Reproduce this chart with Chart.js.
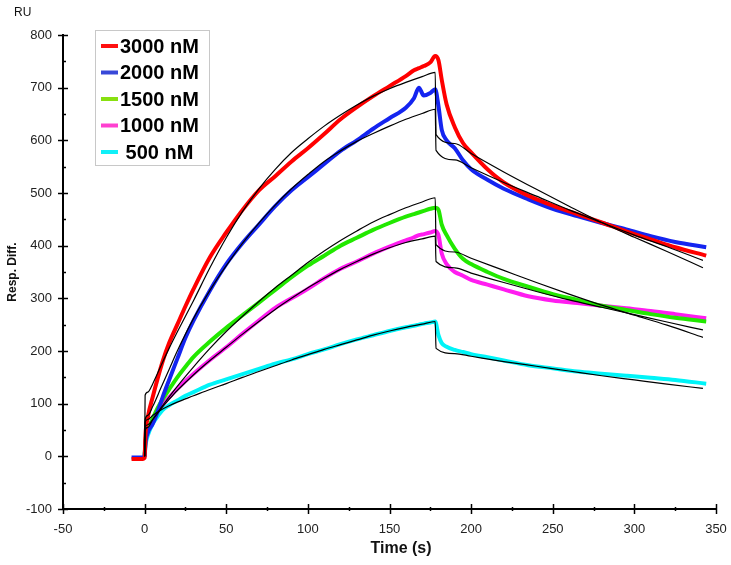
<!DOCTYPE html>
<html>
<head>
<meta charset="utf-8">
<script src="https://cdn.jsdelivr.net/npm/chart.js@4.4.0/dist/chart.umd.min.js"></script>
<style>
  html, body { margin: 0; padding: 0; background: #fff; }
</style>
</head>
<body>
<canvas id="sensorgram" width="731" height="565"></canvas>
<script>
// concentrations shown in the legend
const concLabels = ["3000 nM", "2000 nM", "1500 nM", "1000 nM", " 500 nM"];
const curveColors = ["#ff0000", "#1424f0", "#22e800", "#ff1cf0", "#00f4f8"];
const legendColors = ["#ff1010", "#3848d8", "#88e010", "#ff40d0", "#10f0f8"];

// measured response (RU) vs time (s)
const dataTime = [-8, -1, 0, 0.5, 2, 5, 8, 11, 15, 20, 25, 30, 40, 50, 60, 70, 80, 90, 100, 110,
  120, 130, 140, 150, 160, 165, 168, 171, 175, 178, 180, 182, 185, 190, 195, 200, 210, 220, 235, 250,
  265, 280, 295, 310, 325, 344];
const resp3000 = [-5, -5, -3, 40, 75, 113, 148, 180, 215, 250, 285, 318, 378, 425, 468, 505, 532, 560, 585, 612,
  640, 663, 684, 703, 722, 733, 737, 741, 748, 760, 752, 715, 668, 625, 595, 577, 545, 520, 495, 476,
  460, 444, 427, 412, 397, 381];
const resp2000 = [-2, -2, 0, 25, 45, 62, 85, 112, 145, 185, 225, 258, 315, 365, 405, 440, 475, 505, 530, 555,
  580, 600, 622, 642, 662, 680, 700, 685, 690, 697, 665, 620, 600, 585, 562, 545, 525, 508, 488, 470,
  456, 443, 431, 418, 407, 397];
const resp1500 = [null, null, 0, 30, 48, 72, 92, 108, 127, 150, 170, 189, 218, 244, 268, 292, 316, 340, 362, 381,
  400, 415, 430, 443, 455, 460, 463, 466, 470, 472, 468, 440, 420, 394, 375, 365, 350, 337, 322, 308,
  297, 286, 278, 270, 263, 256];
const resp1000 = [null, null, 0, 25, 50, 70, 86, 98, 112, 128, 143, 157, 183, 207, 233, 258, 282, 300, 318, 338,
  356, 370, 385, 398, 410, 416, 420, 422, 425, 428, 420, 385, 365, 350, 343, 335, 326, 317, 304, 296,
  291, 286, 281, 276, 270, 262];
const resp500 = [null, null, 0, 20, 40, 62, 76, 88, 97, 106, 115, 122, 136, 146, 156, 166, 176, 184, 194, 203,
  213, 222, 230, 238, 245, 248, 250, 252, 254, 256, 230, 215, 208, 202, 198, 194, 188, 182, 173, 167,
  161, 157, 153, 149, 145, 138];

// fitted curves (black)
const fitTime = [0, 0.3, 2, 5, 10, 15, 20, 30, 40, 50, 60, 70, 80, 90, 100, 110, 120, 130, 140, 150,
  160, 170, 178, 178.5, 190, 200, 220, 240, 260, 280, 300, 320, 342];
const fit3000 = [0, 116, 122, 138, 172, 205, 236, 296, 358, 415, 465, 508, 545, 577, 603, 627, 648, 667, 684, 698,
  710, 721, 729, 611, 594, 575, 540, 507, 475, 444, 416, 389, 358];
const fit2000 = [0, 70, 78, 95, 130, 165, 200, 262, 315, 362, 405, 443, 477, 508, 535, 560, 580, 598, 613, 627,
  640, 651, 659, 581, 563, 548, 520, 494, 468, 444, 420, 398, 372];
const fit1500 = [0, 50, 55, 70, 92, 113, 133, 170, 205, 237, 266, 294, 320, 344, 368, 390, 410, 428, 445, 459,
  472, 483, 491, 402, 388, 376, 353, 330, 308, 287, 268, 249, 226];
const fit1000 = [0, 56, 60, 70, 90, 108, 125, 155, 182, 207, 232, 256, 279, 300, 320, 338, 355, 370, 384, 396,
  406, 413, 418, 370, 358, 348, 330, 313, 297, 283, 269, 255, 240];
const fit500 = [0, 65, 70, 78, 88, 96, 103, 115, 127, 138, 150, 161, 172, 183, 193, 203, 212, 221, 230, 238,
  245, 251, 256, 205, 195, 190, 180, 171, 162, 153, 145, 137, 129];

const respSeries = [resp3000, resp2000, resp1500, resp1000, resp500];
const fitSeries = [fit3000, fit2000, fit1500, fit1000, fit500];

function toPoints(times, values) {
  return times.map((t, i) => ({ x: t, y: values[i] })).filter(p => p.y !== null);
}

let datasets = [];
fitSeries.forEach((vals, i) => {
  datasets.push({
    label: "fit " + concLabels[i],
    data: toPoints(fitTime, vals),
    borderColor: "#000",
    borderWidth: 1.2,
    pointRadius: 0,
    cubicInterpolationMode: "monotone",
    order: 0
  });
});
respSeries.forEach((vals, i) => {
  datasets.push({
    label: concLabels[i],
    isResp: true,
    legendColor: legendColors[i],
    data: toPoints(dataTime, vals),
    borderColor: curveColors[i],
    borderWidth: 4,
    pointRadius: 0,
    cubicInterpolationMode: "monotone",
    order: 1 + i
  });
});

// ticks that cross the axis lines, titles and the boxed legend
const decorPlugin = {
  id: "decor",
  afterDraw(chart) {
    const ctx = chart.ctx;
    const xs = chart.scales.x, ys = chart.scales.y;
    const area = chart.chartArea;
    ctx.save();
    ctx.strokeStyle = "#000";
    ctx.lineWidth = 1.5;

    for (let v = -100; v <= 800; v += 50) {
      const y = Math.round(ys.getPixelForValue(v)) + 0.5;
      const major = v % 100 === 0;
      ctx.beginPath();
      ctx.moveTo(area.left - (major ? 5 : 0), y);
      ctx.lineTo(area.left + (major ? 5 : 3), y);
      ctx.stroke();
    }
    for (let v = -50; v <= 350; v += 25) {
      const x = Math.round(xs.getPixelForValue(v)) + 0.5;
      const major = v % 50 === 0;
      ctx.beginPath();
      ctx.moveTo(x, area.bottom - (major ? 5 : 2));
      ctx.lineTo(x, area.bottom + (major ? 5 : 2));
      ctx.stroke();
    }

    ctx.fillStyle = "#111";
    ctx.font = "bold 16px 'Liberation Sans', Arial, sans-serif";
    ctx.textAlign = "center";
    ctx.textBaseline = "middle";
    ctx.fillText("Time (s)", 401, 549);

    ctx.save();
    ctx.translate(13, 272);
    ctx.rotate(-Math.PI / 2);
    ctx.font = "bold 12px 'Liberation Sans', Arial, sans-serif";
    ctx.fillText("Resp. Diff.", 0, 0);
    ctx.restore();

    ctx.font = "12px 'Liberation Sans', Arial, sans-serif";
    ctx.textAlign = "left";
    ctx.fillText("RU", 14, 13);

    // legend box
    const bx = 95.5, by = 30.5, bw = 114, bh = 135;
    ctx.fillStyle = "#fff";
    ctx.fillRect(bx, by, bw, bh);
    ctx.strokeStyle = "#c8c8c8";
    ctx.lineWidth = 1;
    ctx.strokeRect(bx, by, bw, bh);
    const entries = chart.data.datasets.filter(d => d.isResp);
    ctx.font = "bold 20px 'Liberation Sans', Arial, sans-serif";
    ctx.textBaseline = "middle";
    entries.forEach((d, i) => {
      const y = 46 + i * 26.5;
      ctx.strokeStyle = d.legendColor;
      ctx.lineWidth = 4;
      ctx.beginPath();
      ctx.moveTo(101, y);
      ctx.lineTo(118, y);
      ctx.stroke();
      ctx.fillStyle = "#000";
      ctx.fillText(d.label, 120, y + 1);
    });
    ctx.restore();
  }
};

new Chart(document.getElementById("sensorgram"), {
  type: "line",
  data: { datasets: datasets },
  options: {
    responsive: false,
    animation: false,
    layout: { padding: { left: 0, right: 15, top: 35, bottom: 0 } },
    plugins: {
      legend: { display: false },
      tooltip: { enabled: false }
    },
    scales: {
      x: {
        type: "linear",
        min: -50,
        max: 350,
        afterFit: s => { s.height = 56; s.paddingLeft = 0; s.paddingRight = 0; },
        ticks: {
          stepSize: 50,
          padding: 13,
          color: "#222",
          font: { family: "'Liberation Sans', Arial, sans-serif", size: 13 }
        },
        grid: { display: false, drawTicks: false },
        border: { display: true, color: "#000", width: 2 }
      },
      y: {
        min: -100,
        max: 800,
        afterFit: s => { s.width = 63; s.paddingTop = 0; s.paddingBottom = 0; },
        ticks: {
          stepSize: 100,
          padding: 11,
          color: "#222",
          font: { family: "'Liberation Sans', Arial, sans-serif", size: 13 }
        },
        grid: { display: false, drawTicks: false },
        border: { display: true, color: "#000", width: 2 }
      }
    }
  },
  plugins: [decorPlugin]
});
</script>
</body>
</html>
